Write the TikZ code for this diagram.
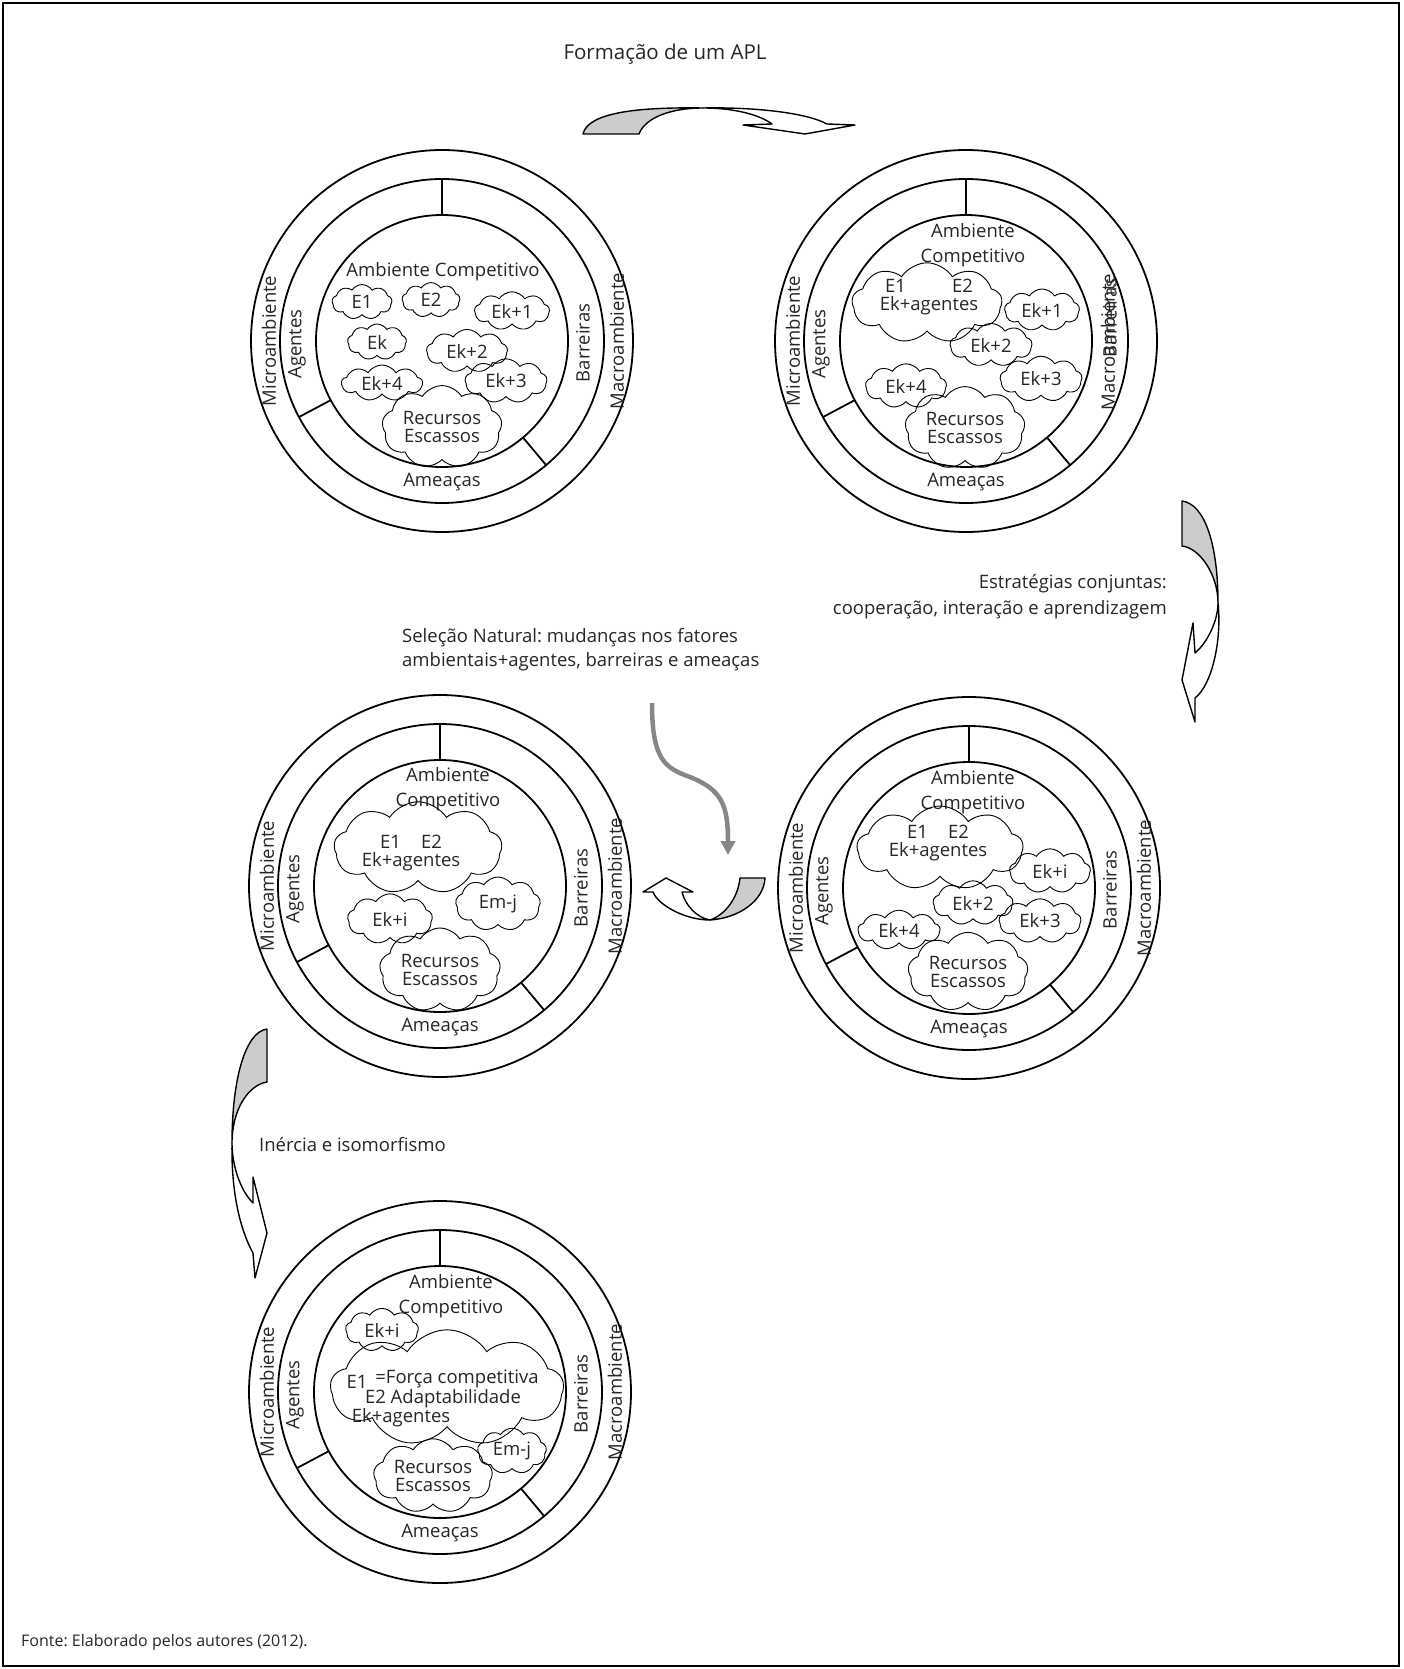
\documentclass[tikz,border=0pt]{standalone}
\usepackage{fontspec}
\setmainfont{Open Sans}
\frenchspacing
\usetikzlibrary{shapes.symbols,arrows.meta}

\begin{document}
\begin{tikzpicture}[x=1pt,y=-1pt,
  every node/.style={inner sep=0pt, text=black!85, font=\fontsize{18.5}{24}\selectfont},
  ring/.style={line width=1.8pt},
  rotulo/.style={align=center, font=\fontsize{18.5}{18}\selectfont},
  amb/.style={align=center, font=\fontsize{18.5}{25}\selectfont},
  nuvem/.style n args={3}{cloud, draw, cloud puffs=9, cloud puff arc=115, cloud ignores aspect,
    line width=0.9pt, minimum width=#1pt, minimum height=1.2*#2pt, label={[rotulo]center:#3}},
  seta/.style={draw, line width=1.4pt, line join=round, fill=white},
  verso/.style={draw, line width=1.4pt, line join=round, fill=black!20}]
\useasboundingbox (0,0) rectangle (1403,1669);
\draw[line width=1.2pt] (3,3) rectangle (1399,1666);

% os cinco ambientes
\foreach \cx/\cy/\n in {442/341/a, 966/341/b, 440/886/c, 969/888/d, 440/1392/e} {
  \draw[ring] (\cx,\cy) circle[radius=126pt] circle[radius=162pt] circle[radius=191pt];
  \begin{scope}[shift={(\cx,\cy)}]
    \draw[ring] (-90:126) -- (-90:162) (152:126) -- (152:162) (50:126) -- (50:162);
    \node[rotate=90] (mic\n) at (-173,0) {Microambiente};
    \node[rotate=90] (age\n) at (-145,3) {Agentes};
    \node (ame\n) at (0,141) {Ameaças};
  \end{scope}
}
\foreach \cx/\cy/\n in {442/341/a, 440/886/c, 969/888/d, 440/1392/e} {
  \node[rotate=90] (bar\n) at (\cx+141,\cy+2) {Barreiras};
  \node[rotate=90] (mac\n) at (\cx+175,\cy) {Macroambiente};
}
\node[rotate=90] (barb) at (1110,318) {Barreiras};
\node[rotate=90] (macb) at (1108,342) {Macroambiente};

% ambiente 1
\node (amba) at (443,272) {Ambiente Competitivo};
\node[nuvem={60}{29}{E1}] (c1e1) at (362,302) {};
\node[nuvem={58}{29}{E2}] (c1e2) at (431,300) {};
\node[nuvem={75}{32}{Ek+1}] (c1ek1) at (512,311) {};
\node[nuvem={59}{30}{Ek}] (c1ek) at (377,342) {};
\node[nuvem={81}{36}{Ek+2}] (c1ek2) at (467,351) {};
\node[nuvem={81}{30}{Ek+4}] (c1ek4) at (382,383) {};
\node[nuvem={82}{37}{Ek+3}] (c1ek3) at (506,381) {};
\node[nuvem={120}{69}{Recursos\\Escassos}] (c1rec) at (442,427) {};

% ambiente 2
\node[amb] (ambb) at (973,245) {Ambiente\\Competitivo};
\node[nuvem={150}{67}{}] (c2ag) at (927,303) {};
\node[rotulo] (c2agt) at (929,297) {E1\hspace{46pt}E2\\Ek+agentes};
\node[nuvem={75}{35}{Ek+1}] (c2ek1) at (1042,310) {};
\node[nuvem={82}{36}{Ek+2}] (c2ek2) at (991,345) {};
\node[nuvem={82}{38}{Ek+3}] (c2ek3) at (1041,379) {};
\node[nuvem={81}{37}{Ek+4}] (c2ek4) at (906,386) {};
\node[nuvem={120}{69}{Recursos\\Escassos}] (c2rec) at (965,428) {};

% ambiente 3
\node[amb] (ambc) at (448,789) {Ambiente\\Competitivo};
\node[nuvem={168}{77}{}] (c3ag) at (418,848) {};
\node[rotulo] (c3agt) at (411,853) {E1\hspace{20pt}E2\\Ek+agentes};
\node[nuvem={85}{45}{Em-j}] (c3emj) at (498,904) {};
\node[nuvem={85}{42}{Ek+i}] (c3eki) at (390,919) {};
\node[nuvem={121}{70}{Recursos\\Escassos}] (c3rec) at (440,970) {};

% ambiente 4
\node[amb] (ambd) at (973,792) {Ambiente\\Competitivo};
\node[nuvem={166}{70}{}] (c4ag) at (940,848) {};
\node[rotulo] (c4agt) at (938,843) {E1\hspace{20pt}E2\\Ek+agentes};
\node[nuvem={81}{37}{Ek+i}] (c4eki) at (1050,871) {};
\node[nuvem={80}{37}{Ek+2}] (c4ek2) at (973,903) {};
\node[nuvem={82}{37}{Ek+3}] (c4ek3) at (1040,921) {};
\node[nuvem={82}{33}{Ek+4}] (c4ek4) at (899,930) {};
\node[nuvem={120}{66}{Recursos\\Escassos}] (c4rec) at (968,972) {};

% ambiente 5
\node[amb] (ambe) at (451,1296) {Ambiente\\Competitivo};
\node[nuvem={73}{36}{Ek+i}] (c5eki) at (382,1330) {};
\node[nuvem={233}{97}{}] (c5ag) at (447,1388) {};
\node[anchor=base] (c5t1) at (357,1388) {E1};
\node[anchor=base] (c5t2) at (457,1383) {=Força competitiva};
\node[anchor=base] (c5t3) at (443,1403) {E2 Adaptabilidade};
\node[anchor=base] (c5t4) at (401,1422) {Ek+agentes};
\node[nuvem={69}{38}{Em-j}] (c5emj) at (512,1451) {};
\node[nuvem={119}{62}{Recursos\\Escassos}] (c5rec) at (433,1476) {};

% setas
\path[seta] (703,108) .. controls (750,107) and (805,112) .. (827,124) -- (855,125) -- (805,134)
  -- (743,125) -- (772,124) .. controls (760,115) and (735,108) .. (703,108) -- cycle;
\path[verso] (583,134) -- (639,134) .. controls (645,118) and (670,108) .. (703,108)
  .. controls (640,107) and (588,112) .. (583,134) -- cycle;
\path[seta] (1218,603) .. controls (1222,640) and (1212,685) .. (1195,698) -- (1195,722) -- (1182,680)
  -- (1193,623) -- (1195,653) .. controls (1208,642) and (1218,620) .. (1218,603) -- cycle;
\path[verso] (1182,501) -- (1182,546) .. controls (1200,548) and (1218,575) .. (1218,603)
  .. controls (1218,545) and (1205,504) .. (1182,501) -- cycle;
\path[seta] (710,920) .. controls (685,920) and (658,905) .. (653,892) -- (643,892) -- (666,878)
  -- (693,892) -- (682,892) .. controls (685,905) and (697,918) .. (710,920) -- cycle;
\path[verso] (740,878) -- (765,878) .. controls (764,900) and (740,918) .. (710,920)
  .. controls (725,915) and (738,898) .. (740,878) -- cycle;
\path[seta] (232,1143) .. controls (231,1200) and (243,1235) .. (253,1253) -- (255,1278) -- (267,1233)
  -- (253,1177) -- (253,1203) .. controls (240,1190) and (232,1165) .. (232,1143) -- cycle;
\path[verso] (267,1029) -- (267,1082) .. controls (248,1085) and (232,1110) .. (232,1143)
  .. controls (232,1080) and (245,1032) .. (267,1029) -- cycle;

\coordinate (selA) at (652,703);
\coordinate (selB) at (728,855);
\draw[line width=4.5pt, black!47, -{Triangle[length=14pt,width=14pt]}] (selA)
  .. controls (652,760) and (665,768) .. (690,777) .. controls (722,790) and (728,805) .. (selB);

% textos
\node[anchor=base, font=\fontsize{20.5}{24}\selectfont] (titulo) at (665,60) {Formação de um APL};
\node[anchor=base east] (estr1) at (1167,588) {Estratégias conjuntas:};
\node[anchor=base east] (estr2) at (1167,614) {cooperação, interação e aprendizagem};
\node[anchor=base west] (sel1) at (402,642) {Seleção Natural: mudanças nos fatores};
\node[anchor=base west] (sel2) at (402,666) {ambientais+agentes, barreiras e ameaças};
\node[anchor=base west] (inercia) at (259,1151) {Inércia e isomorfismo};
\node[anchor=base west, font=\fontsize{16}{20}\selectfont] (fonte) at (21,1646) {Fonte: Elaborado pelos autores (2012).};
\end{tikzpicture}
\end{document}
